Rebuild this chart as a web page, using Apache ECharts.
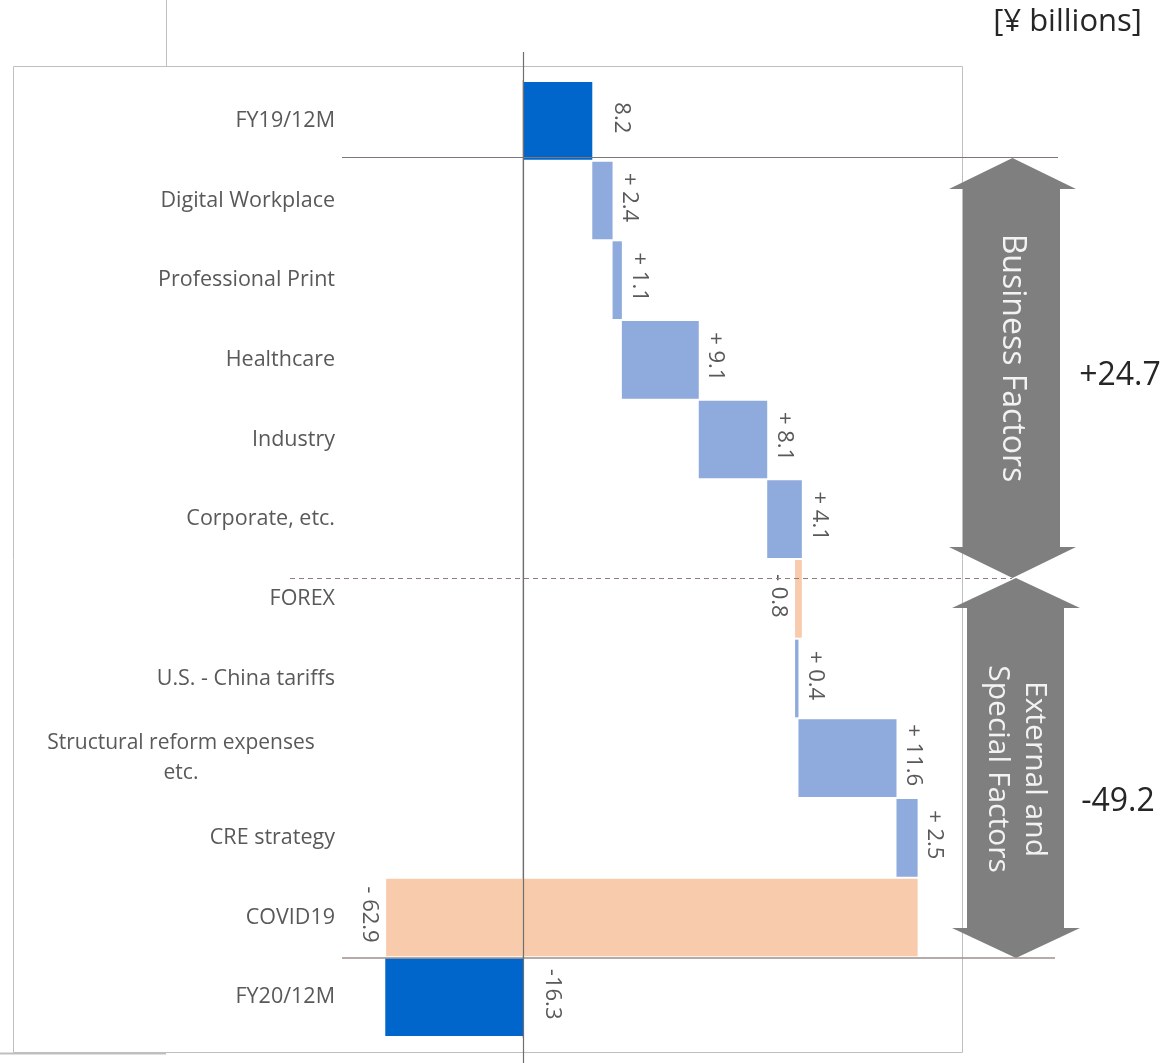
<!DOCTYPE html>
<html>
<head>
<meta charset="utf-8">
<script src="https://cdn.jsdelivr.net/npm/echarts@6/dist/echarts.min.js"></script>
<style>
  html, body { margin: 0; padding: 0; background: #fff; }
  #main { width: 1170px; height: 1063px; }
</style>
</head>
<body>
<div id="main"></div>
<script>
const categories = [
  'FY19/12M', 'Digital Workplace', 'Professional Print', 'Healthcare', 'Industry',
  'Corporate, etc.', 'FOREX', 'U.S. - China tariffs', 'Structural reform expenses\netc.',
  'CRE strategy', 'COVID19', 'FY20/12M'
];
// 'total' bars start from zero, the others are steps of the waterfall
const kinds = ['total', 'step', 'step', 'step', 'step', 'step', 'step', 'step', 'step', 'step', 'step', 'total'];
const values = [8.2, 2.4, 1.1, 9.1, 8.1, 4.1, -0.8, 0.4, 11.6, 2.5, -62.9, -16.3];
const groupNames = ['Business Factors', 'External and\nSpecial Factors'];
const groupTotals = ['+24.7', '-49.2'];

const FONT = '"Open Sans", "Noto Sans", sans-serif';
const colors = { total: '#0066CC', up: '#8FAADC', down: '#F8CBAD' };

// start / end of each bar
let run = 0;
const bars = values.map((v, i) => {
  if (kinds[i] === 'total') { run = v; return [i, 0, v, v]; }
  const s = run; run = +(run + v).toFixed(1);
  return [i, s, run, v];
});

const chart = echarts.init(document.getElementById('main'));

function renderItem(params, api) {
  const i = api.value(0);
  const s = api.value(1);
  const e = api.value(2);
  const v = api.value(3);
  const total = kinds[i] === 'total';
  const p0 = api.coord([Math.min(s, e), i]);
  const p1 = api.coord([Math.max(s, e), i]);
  const band = api.size([0, 1])[1];
  const h = band - 2;
  const fill = total ? colors.total : (v >= 0 ? colors.up : colors.down);
  const txt = total ? v.toFixed(1) : (v >= 0 ? '+ ' : '- ') + Math.abs(v).toFixed(1);
  const right = total || v >= 0;
  const gap = total ? 18 : 6;
  return {
    type: 'group',
    children: [
      {
        type: 'rect',
        shape: { x: p0[0], y: p0[1] - h / 2, width: Math.max(p1[0] - p0[0], 2), height: h },
        style: { fill: fill }
      },
      {
        type: 'text',
        x: right ? p1[0] + gap : p0[0] - gap,
        y: p0[1] - 3,
        rotation: -Math.PI / 2,
        style: {
          text: txt,
          fill: '#595959',
          font: '22px ' + FONT,
          align: 'center',
          verticalAlign: right ? 'bottom' : 'top'
        }
      }
    ]
  };
}

function arrow(top, bottom, xl, xr, sl, sr, head) {
  const cx = (xl + xr) / 2;
  return [
    [cx, top], [xr, top + head], [sr, top + head], [sr, bottom - head], [xr, bottom - head],
    [cx, bottom], [xl, bottom - head], [sl, bottom - head], [sl, top + head], [xl, top + head]
  ];
}

const option = {
  animation: false,
  grid: { left: 354, top: 81, width: 591.5, height: 956, containLabel: false },
  xAxis: {
    type: 'value', min: -20, max: 50, show: false
  },
  yAxis: {
    type: 'category',
    inverse: true,
    data: categories,
    axisLine: { show: true, lineStyle: { color: '#d9d9d9', width: 2 } },
    axisTick: { show: false },
    axisLabel: {
      margin: 19,
      color: '#595959',
      fontFamily: FONT,
      fontSize: 21.5,
      lineHeight: 30,
      formatter: function (val) {
        if (val.indexOf('\n') < 0) return val;
        return val.split('\n').map(t => '{c|' + t + '}').join('\n');
      },
      rich: {
        c: { width: 308, align: 'center', color: '#595959', fontFamily: FONT, fontSize: 21, lineHeight: 30 }
      }
    }
  },
  series: [{
    type: 'custom',
    renderItem: renderItem,
    encode: { x: [1, 2], y: 0 },
    data: bars,
    z: 3
  }],
  graphic: [
    { type: 'rect', shape: { x: 13.5, y: 66.5, width: 949, height: 986 }, style: { fill: 'none', stroke: '#bfbfbf', lineWidth: 1 }, z: 0 },
    { type: 'line', shape: { x1: 166.5, y1: 0, x2: 166.5, y2: 66 }, style: { stroke: '#bfbfbf', lineWidth: 1 } },
    { type: 'line', shape: { x1: 0, y1: 1053.5, x2: 166, y2: 1053.5 }, style: { stroke: '#bfbfbf', lineWidth: 2 } },
    { type: 'line', shape: { x1: 342, y1: 157.5, x2: 1058, y2: 157.5 }, style: { stroke: '#7f7676', lineWidth: 1.2 }, z: 10 },
    { type: 'line', shape: { x1: 342, y1: 958, x2: 1055, y2: 958 }, style: { stroke: '#9c8f8c', lineWidth: 1.5 }, z: 10 },
    { type: 'line', shape: { x1: 290, y1: 578.5, x2: 1012, y2: 578.5 }, style: { stroke: '#8c7f7c', lineWidth: 1, lineDash: [5, 4] }, z: 10 },
    { type: 'line', shape: { x1: 523.5, y1: 52, x2: 523.5, y2: 1063 }, style: { stroke: '#6f6f6f', lineWidth: 1.2 }, z: 10 },
    { type: 'polygon', shape: { points: arrow(158, 578, 949, 1076, 963, 1060, 31) }, style: { fill: '#7f7f7f' }, z: 5 },
    { type: 'polygon', shape: { points: arrow(578, 958, 952, 1080, 967, 1064, 30) }, style: { fill: '#7f7f7f' }, z: 5 },
    {
      type: 'text', x: 1012, y: 358, rotation: -Math.PI / 2, z: 6,
      style: { text: groupNames[0], fill: '#f2f2f2', font: '32px ' + FONT, align: 'center', verticalAlign: 'middle' }
    },
    {
      type: 'text', x: 1016, y: 769, rotation: -Math.PI / 2, z: 6,
      style: { text: groupNames[1], fill: '#f2f2f2', font: '30px ' + FONT, lineHeight: 37, align: 'center', verticalAlign: 'middle' }
    },
    {
      type: 'text', x: 1120, y: 376, z: 6,
      style: { text: groupTotals[0], fill: '#262626', font: '32px ' + FONT, align: 'center', verticalAlign: 'middle' }
    },
    {
      type: 'text', x: 1118, y: 802, z: 6,
      style: { text: groupTotals[1], fill: '#262626', font: '32px ' + FONT, align: 'center', verticalAlign: 'middle' }
    },
    {
      type: 'text', x: 1142, y: 22, z: 6,
      style: { text: '[¥ billions]', fill: '#262626', font: '31px ' + FONT, align: 'right', verticalAlign: 'middle' }
    }
  ]
};

chart.setOption(option);
</script>
</body>
</html>
